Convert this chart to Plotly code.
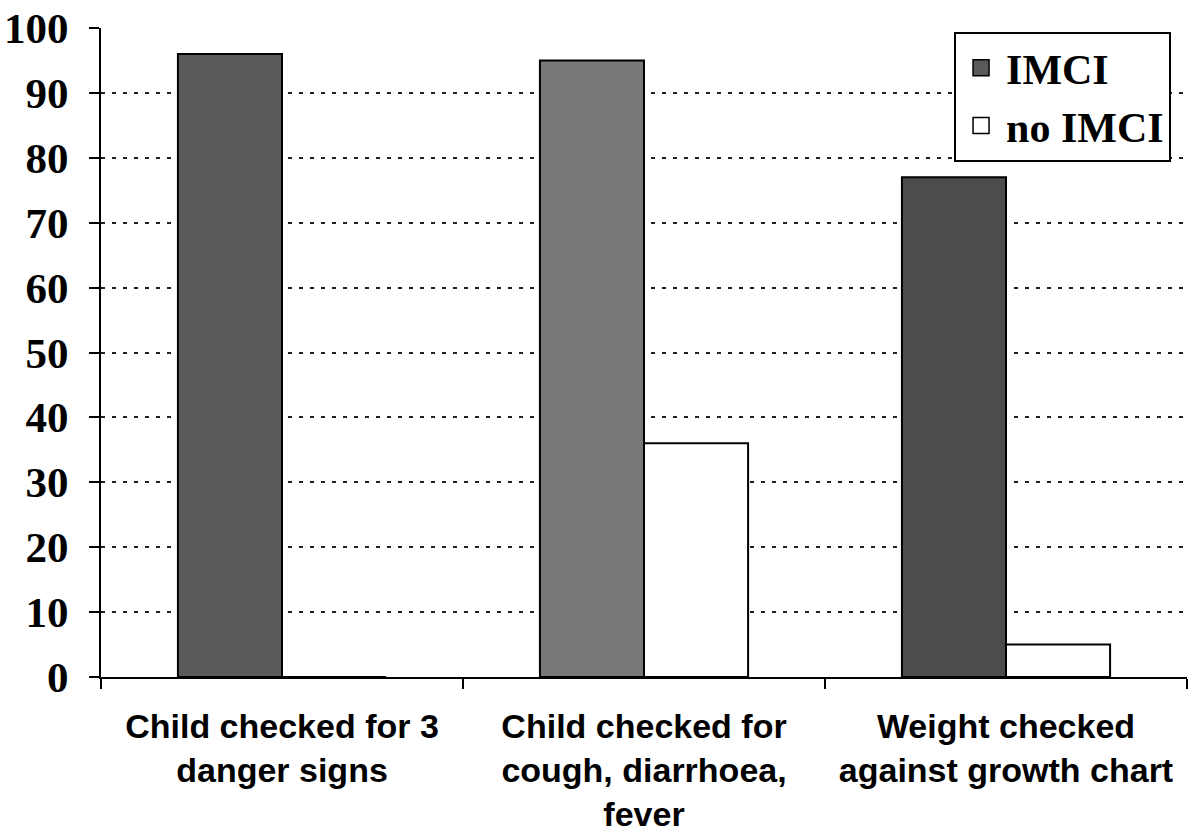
import plotly.graph_objects as go

categories = [
    "Child checked for 3<br>danger signs",
    "Child checked for<br>cough, diarrhoea,<br>fever",
    "Weight checked<br>against growth chart",
]
series_names = ["IMCI", "no IMCI"]
imci = [96, 95, 77]
no_imci = [0, 36, 5]
y_ticks = [0, 10, 20, 30, 40, 50, 60, 70, 80, 90, 100]

imci_colors = ["#5a5a5a", "#787878", "#4c4c4c"]
legend_colors = ["#5a5a5a", "white"]

fig = go.Figure()
fig.add_trace(go.Bar(
    name=series_names[0], x=categories, y=imci, showlegend=False,
    marker=dict(color=imci_colors, line=dict(color="black", width=2)),
))
fig.add_trace(go.Bar(
    name=series_names[1], x=categories, y=no_imci, showlegend=False,
    marker=dict(color="white", line=dict(color="black", width=2)),
))
# legend-only entries with larger square swatches
for name, col in zip(series_names, legend_colors):
    fig.add_trace(go.Scatter(
        name=name, x=[None], y=[None], mode="markers", showlegend=True,
        marker=dict(symbol="square", size=16, color=col,
                    line=dict(color="black", width=1.5)),
    ))

fig.update_layout(
    width=1192, height=834,
    margin=dict(l=101, r=5, t=28, b=157),
    paper_bgcolor="white", plot_bgcolor="white",
    barmode="group", bargap=0.425, bargroupgap=0,
    showlegend=True,
    legend=dict(
        x=0.9853, y=0.9938, xanchor="right", yanchor="top",
        bgcolor="white", bordercolor="black", borderwidth=2,
        font=dict(family="Liberation Serif", size=42, color="black", weight="bold"),
        itemsizing="trace", itemwidth=40, tracegroupgap=0,
    ),
)

fig.update_xaxes(
    automargin=False,
    showline=True, linecolor="black", linewidth=2,
    ticks="outside", tickson="boundaries", ticklen=10, tickwidth=1.5, tickcolor="black",
    tickfont=dict(family="Liberation Sans", size=34, color="black", weight="bold"),
    ticklabelstandoff=18,
    showgrid=False, zeroline=False,
)
fig.update_yaxes(
    automargin=False,
    range=[0, 100], tickvals=y_ticks,
    showline=True, linecolor="black", linewidth=2,
    ticks="outside", ticklen=10, tickwidth=1.5, tickcolor="black",
    tickfont=dict(family="Liberation Serif", size=43, color="black", weight="bold"),
    ticklabelstandoff=12,
    showgrid=True, gridcolor="#222222", gridwidth=1.5, griddash="4px,7px",
    zeroline=False,
)

fig.write_html("out.html", config={"displayModeBar": False},
               post_script="document.body.style.margin='0px';")
